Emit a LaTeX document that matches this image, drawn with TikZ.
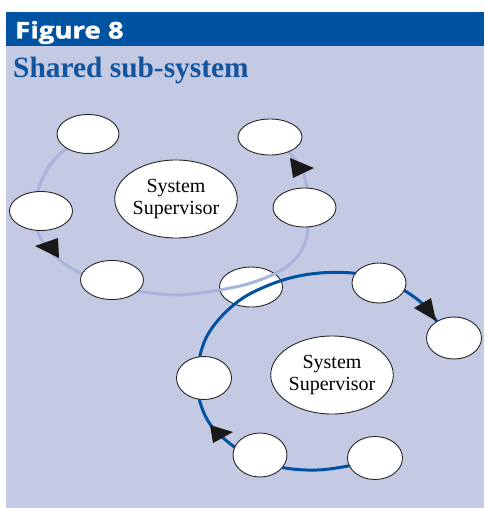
\documentclass[tikz,border=0pt]{standalone}
\usepackage{fontspec}
\usepackage{graphicx}
\setmainfont{Liberation Serif}
\newfontfamily\headfont{Open Sans}[BoldFeatures={FakeBold=1.6}]
\usetikzlibrary{shapes.geometric}
\definecolor{bgc}{RGB}{197,202,228}
\definecolor{headc}{RGB}{0,83,160}
\definecolor{titlec}{RGB}{18,84,157}
\definecolor{lightl}{RGB}{168,180,219}
\definecolor{darkl}{RGB}{0,82,160}
\tikzset{
  ell/.style={ellipse, draw=black!85, line width=0.9pt, fill=white, inner sep=0pt},
  suptext/.style={align=center, font=\fontsize{20}{22.5}\selectfont},
  lightloop/.style={draw=lightl, line width=3pt},
  darkloop/.style={draw=darkl, line width=3pt},
  tip/.style={fill=black!90}
}
\begin{document}
\begin{tikzpicture}[x=1pt,y=-1pt]
\useasboundingbox (0,0) rectangle (484,508);
\fill[white] (0,0) rectangle (484,508);
\fill[bgc] (6,46) rectangle (484,508);
\fill[headc] (6,12) rectangle (484,46);
\node[anchor=base west, text=white, inner sep=0pt] (fig) at (15,38.5)
  {\scalebox{1.2}[1]{\headfont\bfseries\fontsize{23}{23}\selectfont Figure 8}};
\node[anchor=base west, text=titlec, inner sep=0pt, font=\bfseries\fontsize{29.4}{29.4}\selectfont] (title) at (13,78) {Shared sub-system};

% shared ellipse (lines pass over it)
\node[ell, minimum width=63pt, minimum height=40pt] (shared) at (251,287) {};

% upper loop (light)
\draw[lightloop] plot[smooth, tension=0.6] coordinates {
  (75,145) (63,151) (48,168) (38,190) (34,212) (38,232) (47,248) (62,262) (82,274)
  (110,286) (143,292) (175,295) (200,293) (220,290) (251,283) (280,271) (297,257)
  (306,240) (308,222) (308,200) (306,182) (299,165) (287,150)};

% lower loop (dark)
\draw[darkloop] plot[smooth, tension=0.6] coordinates {
  (441,328) (425,306) (402,289) (379,278) (352,273) (320,273) (290,278) (262,288)
  (240,300) (220,318) (206,338) (199,360) (197,380) (200,402) (210,424) (228,442)
  (255,460) (285,468) (317,470) (348,466) (366,461)};

% upper nodes
\node[ell, minimum width=62pt, minimum height=39pt] (u1) at (88,134) {};
\node[ell, minimum width=64pt, minimum height=36pt] (u2) at (270,137) {};
\node[ell, minimum width=63pt, minimum height=39pt] (u3) at (41,211) {};
\node[ell, minimum width=63pt, minimum height=39pt] (u4) at (304.5,207.5) {};
\node[ell, minimum width=63pt, minimum height=39pt] (u5) at (112,280) {};
\node[ell, suptext, minimum width=114pt, minimum height=78pt] (sup1) at (176,199) {System\\Supervisor};

% lower nodes
\node[ell, minimum width=54pt, minimum height=40pt] (l1) at (379,283) {};
\node[ell, minimum width=55pt, minimum height=42pt] (l2) at (454,338) {};
\node[ell, minimum width=55pt, minimum height=43pt] (l3) at (204,378) {};
\node[ell, minimum width=54pt, minimum height=44pt] (l4) at (260,455) {};
\node[ell, minimum width=55pt, minimum height=43pt] (l5) at (375,458) {};
\node[ell, suptext, minimum width=111pt, minimum height=78pt] (sup2) at (332,375) {System\\Supervisor};

% arrowheads
\fill[tip] (290,158) -- (314,168) -- (293,178) -- cycle;
\fill[tip] (35,246) -- (58,238) -- (59,258) -- cycle;
\fill[tip] (414,308) -- (431,298) -- (436,321) -- cycle;
\fill[tip] (210,425) -- (233,432) -- (213,443) -- cycle;
\end{tikzpicture}
\end{document}
